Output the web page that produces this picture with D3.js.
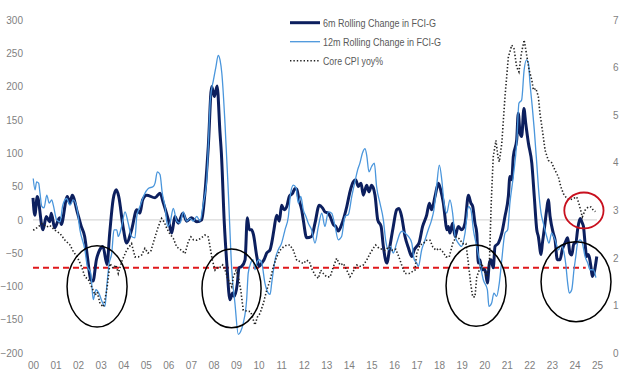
<!DOCTYPE html>
<html><head><meta charset="utf-8">
<script src="https://cdn.jsdelivr.net/npm/d3@7"></script>
<style>
html,body{margin:0;padding:0;background:#fff;}
svg{display:block;}
text{font-family:"Liberation Sans",Arial,sans-serif;}
</style></head>
<body><svg id="c" width="640" height="387"></svg>
<script>
// ---- data (year as decimal) ----
const yearTicks = d3.range(2000, 2026);
const yearLabels = yearTicks.map(y => String(y % 100).padStart(2, "0"));
const leftTicks = [-200,-150,-100,-50,0,50,100,150,200,250,300];
const rightTicks = [0,1,2,3,4,5,6,7];

const t6m = [2000.00,2000.08,2000.19,2000.44,2000.59,2000.74,2000.81,2000.96,2001.18,2001.25,2001.52,2001.63,2001.74,2001.96,2002.14,2002.29,2002.41,2002.56,2002.66,2002.81,2002.96,2003.10,2003.28,2003.40,2003.55,2003.69,2003.80,2003.99,2004.15,2004.37,2004.60,2004.74,2004.86,2005.04,2005.41,2005.63,2005.78,2006.00,2006.15,2006.29,2006.44,2006.64,2006.81,2007.03,2007.26,2007.48,2007.62,2007.77,2007.92,2008.04,2008.16,2008.29,2008.35,2008.48,2008.59,2008.73,2008.85,2008.92,2009.06,2009.13,2009.25,2009.40,2009.50,2009.59,2009.69,2009.77,2009.92,2010.02,2010.14,2010.24,2010.36,2010.51,2010.58,2010.68,2010.80,2010.92,2011.02,2011.13,2011.25,2011.36,2011.51,2011.61,2011.69,2011.79,2011.91,2011.98,2012.13,2012.35,2012.50,2012.69,2012.83,2012.94,2013.09,2013.17,2013.31,2013.42,2013.53,2013.68,2013.91,2014.05,2014.20,2014.30,2014.42,2014.54,2014.64,2014.79,2014.89,2015.01,2015.16,2015.28,2015.43,2015.53,2015.68,2015.82,2015.97,2016.12,2016.22,2016.34,2016.49,2016.64,2016.79,2016.90,2017.01,2017.11,2017.27,2017.45,2017.57,2017.67,2017.82,2017.97,2018.07,2018.19,2018.26,2018.34,2018.41,2018.48,2018.60,2018.71,2018.85,2019.00,2019.15,2019.30,2019.41,2019.49,2019.59,2019.67,2019.74,2019.81,2019.89,2020.04,2020.14,2020.23,2020.30,2020.40,2020.48,2020.63,2020.78,2020.92,2021.07,2021.14,2021.22,2021.29,2021.44,2021.51,2021.59,2021.66,2021.76,2021.84,2021.96,2022.11,2022.22,2022.33,2022.40,2022.52,2022.58,2022.66,2022.77,2022.84,2022.92,2023.06,2023.14,2023.24,2023.36,2023.46,2023.58,2023.70,2023.80,2023.88,2023.98,2024.06,2024.14,2024.25,2024.35,2024.40,2024.47,2024.54,2024.61,2024.73,2024.79,2024.88,2024.99];
const v6m = [33,7,35,-15,5,-3,10,-12,3,-7,35,25,37,12,-10,-25,-55,-90,-92,-60,-45,-40,-67,-20,30,45,35,-10,-35,-15,15,10,30,37,33,40,25,0,-20,5,-5,10,-2,3,-3,0,40,110,200,185,201,130,100,-5,-65,-120,-110,-115,-95,-72,-70,-60,3,-15,-15,-22,-55,-70,-65,-60,-50,-45,-35,-15,7,-2,22,15,20,35,40,47,46,30,15,0,-27,-25,-5,22,18,12,10,5,-7,-10,-17,-7,20,42,57,60,50,55,37,52,42,52,37,0,-10,-40,-65,-40,-10,15,17,5,-25,-42,-55,-45,-40,-35,-10,7,25,15,35,55,45,25,5,-15,-10,-20,-5,-25,-10,-15,-5,37,25,20,-5,-20,-65,-60,-75,-75,-95,-65,-60,-72,-40,-35,-20,5,35,65,60,95,120,160,130,125,167,145,115,85,35,-15,-25,-52,-35,-15,15,30,5,-20,-30,-60,-60,-45,-35,-27,-50,-53,-35,-35,-15,2,-5,-10,-35,-55,-52,-70,-85,-78,-55];

const t12m = [2000.01,2000.09,2000.16,2000.25,2000.31,2000.39,2000.49,2000.61,2000.72,2000.83,2000.90,2001.05,2001.20,2001.32,2001.49,2001.64,2001.79,2001.96,2002.08,2002.30,2002.41,2002.56,2002.67,2002.79,2002.94,2003.05,2003.19,2003.27,2003.38,2003.49,2003.59,2003.71,2003.78,2003.93,2004.08,2004.22,2004.37,2004.52,2004.60,2004.74,2004.92,2005.11,2005.33,2005.41,2005.51,2005.63,2005.73,2005.85,2005.97,2006.07,2006.22,2006.37,2006.52,2006.66,2006.81,2006.96,2007.11,2007.26,2007.40,2007.55,2007.70,2007.77,2007.86,2008.00,2008.11,2008.21,2008.29,2008.37,2008.51,2008.66,2008.81,2008.95,2009.10,2009.20,2009.32,2009.47,2009.54,2009.65,2009.75,2009.84,2009.92,2010.03,2010.14,2010.28,2010.43,2010.51,2010.58,2010.73,2010.87,2011.02,2011.17,2011.32,2011.42,2011.54,2011.66,2011.76,2011.87,2011.98,2012.10,2012.20,2012.35,2012.50,2012.65,2012.80,2012.94,2013.09,2013.24,2013.39,2013.53,2013.68,2013.83,2013.98,2014.13,2014.27,2014.39,2014.49,2014.60,2014.72,2014.80,2014.89,2015.01,2015.13,2015.23,2015.38,2015.53,2015.63,2015.75,2015.85,2015.97,2016.12,2016.27,2016.37,2016.49,2016.64,2016.79,2016.90,2017.01,2017.08,2017.23,2017.38,2017.52,2017.67,2017.77,2017.89,2018.01,2018.12,2018.22,2018.34,2018.48,2018.60,2018.71,2018.85,2019.00,2019.15,2019.30,2019.41,2019.52,2019.67,2019.81,2019.96,2020.14,2020.21,2020.33,2020.43,2020.55,2020.67,2020.78,2020.92,2021.04,2021.14,2021.29,2021.44,2021.54,2021.66,2021.77,2021.88,2021.96,2022.03,2022.13,2022.22,2022.33,2022.40,2022.52,2022.62,2022.77,2022.87,2022.99,2023.14,2023.29,2023.40,2023.51,2023.61,2023.70,2023.77,2023.88,2023.98,2024.06,2024.14,2024.25,2024.35,2024.47,2024.59,2024.69,2024.84,2024.95];
const v12m = [62,45,57,55,40,20,18,37,25,30,22,0,-3,22,32,22,30,15,-15,-45,-70,-80,-120,-105,-112,-122,-130,-100,-65,-50,-15,-15,-25,-10,12,-5,-25,-27,5,20,37,47,50,55,72,68,40,20,-10,-5,17,-2,-5,12,-2,2,-2,5,-2,25,60,110,180,210,230,247,240,220,145,40,-75,-125,-172,-168,-155,-120,-80,-65,-60,-75,-65,-60,-65,-95,-110,-112,-95,-60,-45,-35,-15,5,40,52,48,25,35,15,5,-5,-15,-35,-10,10,-10,12,10,-10,-30,-25,5,8,35,57,75,85,100,107,95,72,80,85,50,25,0,-30,-45,-40,-50,-35,-20,-17,-20,-25,-35,-60,-65,-70,-45,-30,-15,0,15,50,82,60,25,10,30,10,-25,-35,-40,-20,20,15,-15,-40,-65,-90,-105,-130,-125,-110,-115,-95,-60,-20,-15,25,65,115,175,180,225,240,235,205,170,135,85,50,10,-5,-25,-35,-20,-30,-45,-38,-45,-65,-95,-110,-105,-75,-55,-35,-30,-35,-55,-65,-75,-75,-87];

const tCpi = [2000.01,2000.23,2000.39,2000.61,2000.75,2000.98,2001.20,2001.42,2001.64,2001.79,2001.96,2002.16,2002.30,2002.45,2002.60,2002.75,2002.85,2002.97,2003.12,2003.27,2003.41,2003.56,2003.68,2003.78,2003.93,2004.15,2004.37,2004.52,2004.67,2004.82,2004.96,2005.10,2005.23,2005.41,2005.55,2005.70,2005.82,2005.93,2006.07,2006.22,2006.37,2006.52,2006.65,2006.74,2006.88,2007.00,2007.11,2007.26,2007.40,2007.62,2007.77,2007.95,2008.07,2008.21,2008.33,2008.41,2008.51,2008.66,2008.81,2008.88,2009.00,2009.10,2009.21,2009.32,2009.49,2009.65,2009.77,2009.84,2009.94,2010.06,2010.21,2010.36,2010.51,2010.65,2010.80,2010.95,2011.10,2011.25,2011.39,2011.54,2011.69,2011.84,2011.98,2012.13,2012.25,2012.35,2012.50,2012.65,2012.75,2012.87,2013.02,2013.17,2013.31,2013.46,2013.61,2013.76,2013.91,2014.05,2014.20,2014.35,2014.49,2014.64,2014.79,2014.94,2015.08,2015.19,2015.34,2015.49,2015.60,2015.78,2015.93,2016.08,2016.22,2016.37,2016.49,2016.67,2016.81,2016.93,2017.01,2017.15,2017.30,2017.45,2017.60,2017.72,2017.86,2018.01,2018.16,2018.31,2018.45,2018.60,2018.75,2018.90,2019.05,2019.19,2019.30,2019.40,2019.49,2019.59,2019.67,2019.78,2019.89,2019.99,2020.11,2020.23,2020.31,2020.40,2020.52,2020.61,2020.67,2020.78,2020.92,2021.07,2021.22,2021.32,2021.44,2021.54,2021.65,2021.77,2021.87,2021.99,2022.11,2022.18,2022.29,2022.40,2022.47,2022.58,2022.70,2022.84,2022.99,2023.14,2023.29,2023.40,2023.51,2023.66,2023.80,2023.95,2024.10,2024.20,2024.35,2024.47,2024.61,2024.73,2024.84,2024.93];
const vCpi = [2.58,2.65,2.72,2.65,2.68,2.58,2.51,2.37,2.27,2.13,2.02,1.81,1.60,1.55,1.39,1.22,1.28,1.04,0.97,1.32,1.88,1.78,1.85,1.67,1.92,2.16,2.30,2.02,2.02,2.06,2.20,2.10,2.15,2.44,2.65,2.83,2.75,2.62,2.50,2.41,2.23,2.18,2.13,2.09,2.34,2.44,2.38,2.37,2.40,2.48,2.44,1.95,1.74,1.81,1.80,1.85,1.75,1.53,1.39,1.60,1.74,1.60,1.32,0.90,0.88,0.87,0.69,0.59,0.75,0.83,1.04,1.32,1.53,1.81,2.02,2.16,2.23,2.27,2.27,2.16,1.95,1.92,1.88,1.95,1.92,1.78,1.64,1.57,1.74,1.67,1.60,1.60,1.81,1.99,1.85,1.88,1.74,1.60,1.72,1.85,1.82,1.85,1.95,2.09,2.20,2.27,2.20,2.18,2.16,2.23,2.16,2.18,2.02,1.81,1.67,1.67,1.71,1.74,2.09,2.27,2.30,2.37,2.37,2.23,2.16,2.20,2.13,2.02,2.02,2.30,2.44,2.40,2.30,2.30,1.88,1.46,1.18,1.18,1.60,1.74,1.88,1.74,1.60,1.88,3.14,4.12,4.47,4.12,4.02,4.41,5.38,6.22,6.47,6.40,6.01,5.91,6.30,6.58,6.30,5.95,5.74,5.53,5.56,5.39,5.04,4.68,4.26,4.05,4.00,3.84,3.70,3.49,3.35,3.25,3.22,3.25,3.28,3.14,2.86,3.00,3.07,3.07,3.00,2.97];

const thresholdValue = -72;
const seriesNames = ["6m Rolling Change in FCI-G","12m Rolling Change in FCI-G","Core CPI yoy%"];
// annotation ellipses: [centre year, centre value (left axis), half-width in years, half-height in axis units]
const blackEllipses = [[2002.84,-100,1.33,61],[2008.80,-103,1.31,59],[2019.64,-99,1.33,61],[2024.07,-93,1.55,60]];
const redCircle = [2024.42,14,0.87,27];

// ---- chart ----
const svg = d3.select("#c");
const x = d3.scaleLinear().domain([2000,2025]).range([33,597]);
const yL = d3.scaleLinear().domain([-200,300]).range([353,20]);
const yR = d3.scaleLinear().domain([0,7]).range([353,20]);
const tickColor = "#7f7f7f";

// zero gridline
svg.append("line").attr("x1",x(2000)).attr("x2",x(2025)).attr("y1",yL(0)).attr("y2",yL(0))
  .attr("stroke","#d9d9d9").attr("stroke-width",1.3);

function styleTicks(g){
  g.select(".domain").remove();
  g.selectAll("text").attr("fill",tickColor).style("font-size","10px")
    .style("font-family",'"Liberation Sans",Arial,sans-serif');
}
// left axis labels
svg.append("g").attr("transform","translate(23,0)")
  .call(d3.axisLeft(yL).tickValues(leftTicks).tickSize(0).tickPadding(0)).call(styleTicks);
// right axis labels
svg.append("g").attr("transform","translate(613,0)")
  .call(d3.axisRight(yR).tickValues(rightTicks).tickFormat(d3.format("d")).tickSize(0).tickPadding(0)).call(styleTicks);
// x axis labels
svg.append("g").attr("transform","translate(0,362)")
  .call(d3.axisBottom(x).tickValues(yearTicks).tickFormat((d,i)=>yearLabels[i]).tickSize(0).tickPadding(0)).call(styleTicks);

// threshold
svg.append("line").attr("x1",x(2000)).attr("x2",x(2024.5)).attr("y1",yL(thresholdValue)).attr("y2",yL(thresholdValue))
  .attr("stroke","#e0191c").attr("stroke-width",2).attr("stroke-dasharray","6,4");

const lineL = d3.line().x(d=>x(d[0])).y(d=>yL(d[1])).curve(d3.curveMonotoneX);
const lineR = d3.line().x(d=>x(d[0])).y(d=>yR(d[1])).curve(d3.curveLinear);

svg.append("path").datum(t6m.map((t,i)=>[t,v6m[i]])).attr("d",lineL)
  .attr("fill","none").attr("stroke","#0c1f5e").attr("stroke-width",3).attr("stroke-linejoin","round");
svg.append("path").datum(t12m.map((t,i)=>[t,v12m[i]])).attr("d",lineL)
  .attr("fill","none").attr("stroke","#4a96dc").attr("stroke-width",1.3).attr("stroke-linejoin","round");
svg.append("path").datum(tCpi.map((t,i)=>[t,vCpi[i]])).attr("d",lineR)
  .attr("fill","none").attr("stroke","#222").attr("stroke-width",1.6).attr("stroke-dasharray","1.4,2");

// ellipses
blackEllipses.forEach(e=>{
  svg.append("ellipse").attr("cx",x(e[0])).attr("cy",yL(e[1]))
    .attr("rx",x(e[0]+e[2])-x(e[0])).attr("ry",yL(e[1]-e[3])-yL(e[1]))
    .attr("fill","none").attr("stroke","#000").attr("stroke-width",1.5);
});
svg.append("ellipse").attr("cx",x(redCircle[0])).attr("cy",yL(redCircle[1]))
  .attr("rx",x(redCircle[0]+redCircle[2])-x(redCircle[0])).attr("ry",yL(redCircle[1]-redCircle[3])-yL(redCircle[1]))
  .attr("fill","none").attr("stroke","#c8101e").attr("stroke-width",1.8);

// legend
const legend = svg.append("g");
const legStyles = [{c:"#0c1f5e",w:3,d:null,len:113},{c:"#4a96dc",w:1.3,d:null,len:118},{c:"#222",w:1.6,d:"1.4,2",len:60}];
seriesNames.forEach((n,i)=>{
  const y0 = 22.7 + i*19;
  legend.append("line").attr("x1",290).attr("x2",320).attr("y1",y0).attr("y2",y0)
    .attr("stroke",legStyles[i].c).attr("stroke-width",legStyles[i].w)
    .attr("stroke-dasharray",legStyles[i].d);
  legend.append("text").attr("x",323).attr("y",y0).attr("dy","0.35em")
    .attr("fill","#595959").style("font-size","11px")
    .attr("textLength",legStyles[i].len).attr("lengthAdjust","spacingAndGlyphs").text(n);
});
</script></body></html>
